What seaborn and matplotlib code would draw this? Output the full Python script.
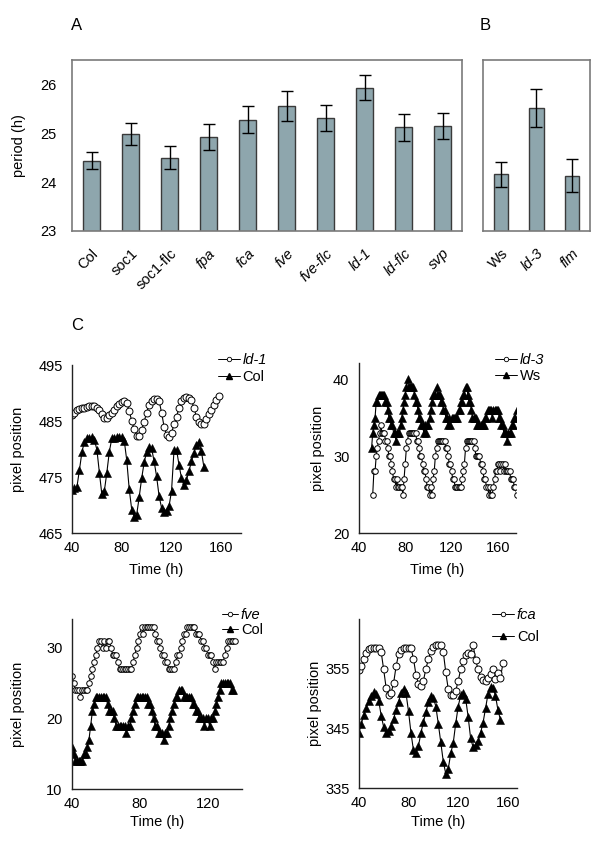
import numpy as np
import pandas as pd
import matplotlib
matplotlib.use("Agg")
import matplotlib.pyplot as plt
from matplotlib.lines import Line2D
import seaborn as sns

# panel A: free-running period, Col background lines
lines_a = ["Col", "soc1", "soc1-flc", "fpa", "fca", "fve", "fve-flc", "ld-1", "ld-flc", "svp"]
period_a = [24.44, 24.98, 24.50, 24.92, 25.28, 25.55, 25.31, 25.93, 25.12, 25.15]
err_a = [0.17, 0.22, 0.24, 0.27, 0.28, 0.31, 0.27, 0.25, 0.27, 0.26]

# panel B: Ws background lines
lines_b = ["Ws", "ld-3", "flm"]
period_b = [24.16, 25.51, 24.13]
err_b = [0.26, 0.39, 0.34]

upright = {"Col", "soc1", "soc1-flc", "Ws"}

# panel C traces (pixel position of leaf vs time)
ld1_time = list(range(40, 160, 2))
ld1_pos = [486.1, 486.5, 486.9, 487.1, 487.3, 487.3, 487.5, 487.6, 487.6, 487.6,
           487.4, 487.0, 486.2, 485.5, 485.6, 486.0, 486.5, 487.0, 487.6, 488.0,
           488.4, 488.5, 488.2, 486.8, 485.0, 483.5, 482.4, 482.4, 483.4, 484.9,
           486.5, 487.9, 488.6, 489.0, 489.0, 488.6, 486.5, 484.0, 482.5, 482.2,
           482.9, 484.4, 485.8, 487.3, 488.5, 489.1, 489.3, 489.2, 488.8, 487.3,
           485.8, 484.8, 484.4, 484.5, 485.4, 486.3, 487.0, 487.8, 488.7, 489.4]
col1_time = list(range(40, 148, 2))
col1_pos = [472.7, 473.0, 473.3, 476.3, 479.5, 481.3, 481.9, 482.0, 482.1, 481.6,
            479.9, 475.8, 471.9, 472.5, 475.8, 479.5, 481.9, 482.0, 482.1, 482.1,
            482.1, 481.5, 478.0, 472.8, 469.2, 467.9, 468.3, 471.4, 474.8, 477.6,
            479.5, 480.3, 480.1, 477.8, 475.1, 471.6, 469.5, 468.8, 469.0, 469.8,
            472.5, 479.8, 479.9, 477.2, 474.8, 473.6, 474.5, 476.0, 477.8, 479.3,
            480.8, 481.3, 479.6, 476.8]

ld3_time = list(range(52, 177))
ld3_pos = [25, 28, 28, 30, 31, 32, 33, 34, 33, 33,
           33, 32, 32, 31, 30, 30, 29, 28, 27, 27,
           26, 27, 26, 26, 26, 26, 25, 27, 29, 31,
           32, 33, 33, 33, 33, 33, 33, 33, 32, 32,
           31, 30, 30, 29, 28, 28, 27, 26, 26, 25,
           26, 25, 27, 28, 30, 31, 32, 32, 32, 32,
           32, 32, 32, 31, 31, 30, 29, 29, 28, 27,
           27, 26, 26, 26, 26, 26, 26, 27, 28, 29,
           31, 32, 32, 32, 32, 32, 32, 32, 31, 30,
           30, 30, 30, 29, 29, 28, 27, 27, 26, 26,
           25, 26, 25, 25, 26, 27, 28, 28, 29, 29,
           28, 29, 29, 28, 29, 28, 28, 28, 28, 27,
           27, 27, 26, 26, 25]
ws_time = list(range(51, 177))
ws_pos = [31, 33, 34, 35, 37, 37, 38, 38, 38, 38,
          38, 38, 37, 37, 36, 35, 35, 34, 34, 33,
          33, 32, 33, 33, 33, 34, 35, 36, 37, 38,
          39, 40, 39, 39, 39, 39, 39, 38, 37, 37,
          36, 35, 35, 34, 34, 33, 34, 33, 34, 34,
          35, 36, 37, 38, 38, 38, 39, 38, 38, 38,
          37, 37, 36, 36, 35, 35, 34, 35, 34, 35,
          35, 35, 35, 35, 35, 36, 36, 37, 37, 38,
          38, 39, 39, 38, 37, 37, 36, 35, 35, 35,
          35, 34, 34, 34, 34, 34, 34, 34, 35, 35,
          36, 36, 36, 36, 35, 36, 36, 36, 36, 36,
          35, 35, 34, 34, 33, 33, 33, 32, 33, 33,
          33, 34, 34, 35, 35, 36]

fve_time = list(range(40, 137))
fve_pos = [26, 25, 24, 24, 24, 23, 24, 24, 24, 24,
           25, 26, 27, 28, 29, 30, 31, 31, 30, 31,
           30, 31, 31, 30, 29, 29, 29, 28, 27, 27,
           27, 27, 27, 27, 27, 27, 28, 29, 30, 31,
           32, 33, 32, 33, 33, 33, 33, 33, 33, 32,
           31, 31, 30, 29, 29, 28, 28, 27, 27, 27,
           27, 28, 29, 29, 30, 31, 32, 32, 33, 33,
           33, 33, 33, 32, 32, 32, 31, 31, 30, 30,
           29, 29, 29, 28, 27, 28, 28, 28, 28, 28,
           29, 30, 31, 31, 31, 31, 31]
col3_time = list(range(40, 136))
col3_pos = [16, 15, 14, 14, 14, 14, 14, 15, 15, 16,
            17, 19, 21, 22, 23, 23, 23, 23, 23, 23,
            23, 22, 21, 21, 21, 20, 19, 19, 19, 19,
            19, 19, 18, 19, 19, 20, 21, 22, 23, 23,
            23, 23, 23, 23, 23, 22, 22, 21, 20, 19,
            19, 18, 18, 18, 17, 18, 18, 19, 20, 21,
            22, 23, 23, 24, 24, 24, 23, 23, 23, 23,
            23, 22, 22, 21, 21, 20, 20, 20, 19, 20,
            20, 19, 20, 20, 21, 22, 23, 24, 25, 25,
            25, 25, 25, 25, 24, 24]

fca_time = list(range(40, 158, 2))
fca_pos = [354.7, 355.3, 356.5, 357.6, 358.2, 358.4, 358.4, 358.4, 358.4, 357.7,
           354.8, 351.7, 350.6, 350.9, 352.5, 355.3, 357.3, 358.1, 358.3, 358.4,
           358.4, 358.3, 356.6, 353.9, 352.4, 352.1, 352.9, 354.9, 356.5, 357.8,
           358.6, 358.9, 358.9, 358.9, 357.7, 354.3, 351.5, 350.5, 350.6, 351.2,
           352.9, 354.8, 356.2, 357.2, 357.5, 357.3, 358.9, 356.4, 354.8, 353.6,
           353.0, 352.9, 353.3, 354.0, 354.8, 353.2, 354.2, 353.4, 355.8]
col4_time = list(range(40, 156, 2))
col4_pos = [344.2, 345.7, 347.2, 348.4, 349.5, 350.3, 351.0, 350.7, 349.6, 347.1,
            345.2, 344.2, 344.5, 345.4, 346.6, 348.0, 349.4, 350.9, 351.6, 350.8,
            347.8, 344.2, 341.3, 340.9, 342.0, 344.2, 346.0, 347.7, 349.3, 350.3,
            350.1, 348.6, 345.7, 342.6, 339.4, 337.4, 338.2, 340.8, 342.5, 345.8,
            348.6, 350.5, 350.8, 349.9, 346.9, 343.3, 341.8, 342.2, 342.8, 344.2,
            345.9, 348.3, 350.7, 351.9, 351.7, 350.4, 348.0, 346.4]

BAR_COLOR = "#8ea6ad"
FRAME = "#7a7a7a"


def period_panel(ax, names, values, errs, width, show_ylabels):
    df = pd.DataFrame({"line": names, "period": values})
    sns.barplot(data=df, x="line", y="period", color=BAR_COLOR, width=width,
                edgecolor="#3a3a3a", linewidth=1.0, saturation=1, ax=ax)
    ax.errorbar(range(len(names)), values, yerr=errs, fmt="none", ecolor="black",
                elinewidth=1.0, capsize=4.5, capthick=1.0)
    ax.set_ylim(23, 26.5)
    ax.set_xlim(-0.5, len(names) - 0.5)
    ax.set_yticks([23, 24, 25, 26])
    ax.set_xlabel("")
    ax.set_ylabel("")
    for s in ax.spines.values():
        s.set_visible(True)
        s.set_color(FRAME)
        s.set_linewidth(1.2)
    ax.set_xticks(np.arange(-0.5, len(names), 1), minor=True)
    ax.tick_params(axis="x", which="major", length=0, pad=11)
    ax.tick_params(axis="x", which="minor", length=4, color="#bbbbbb", direction="out")
    ax.tick_params(axis="y", length=3, color="#bbbbbb", direction="out",
                   labelleft=show_ylabels, labelsize=10.5, pad=8)
    ax.set_xticks(range(len(names)))
    ax.set_xticklabels(names, rotation=45, ha="right", va="top",
                       rotation_mode="anchor", fontsize=10.5)
    for lab in ax.get_xticklabels():
        if lab.get_text() not in upright:
            lab.set_style("italic")


def trace_panel(ax, mut, ctrl, xlim, xticks, ylim, yticks, leg_anchor, leg_len, leg_space,
                ylab_x, xlab_y, ms_o, ms_t):
    mt, mv, mname = mut
    ct, cv, cname = ctrl
    sns.lineplot(x=mt, y=mv, ax=ax, color="black", lw=0.8, estimator=None, sort=False)
    sns.lineplot(x=ct, y=cv, ax=ax, color="black", lw=0.8, estimator=None, sort=False)
    # open circles for the mutant, filled triangles for the control
    line_m, line_c = ax.lines[-2], ax.lines[-1]
    line_m.set_marker("o")
    line_m.set_markersize(ms_o)
    line_m.set_markerfacecolor("white")
    line_m.set_markeredgecolor("black")
    line_m.set_markeredgewidth(0.7)
    line_c.set_marker("^")
    line_c.set_markersize(ms_t)
    line_c.set_markerfacecolor("black")
    line_c.set_markeredgecolor("black")
    line_c.set_markeredgewidth(0.4)
    ax.set_xlim(*xlim)
    ax.set_ylim(*ylim)
    ax.set_xticks(xticks)
    ax.set_yticks(yticks)
    sns.despine(ax=ax)
    for s in ["left", "bottom"]:
        ax.spines[s].set_color("#222222")
        ax.spines[s].set_linewidth(1.0)
    ax.tick_params(axis="y", direction="inout", length=7.5, width=1.0, color="#222222",
                   labelsize=10.5, pad=3)
    ax.tick_params(axis="x", direction="in", length=4.5, width=1.0, color="#222222",
                   labelsize=10.5, pad=6)
    ax.set_xlabel("Time (h)", fontsize=10.5)
    ax.set_ylabel("pixel position", fontsize=10.5)
    ax.yaxis.set_label_coords(ylab_x, 0.5)
    ax.xaxis.set_label_coords(0.5, xlab_y)
    handles = [
        Line2D([], [], color="black", lw=0.7, marker="o", markersize=3.2,
               markerfacecolor="white", markeredgecolor="black", markeredgewidth=0.6),
        Line2D([], [], color="black", lw=0.7, marker="^", markersize=4.2,
               markerfacecolor="black", markeredgecolor="black"),
    ]
    leg = ax.figure.legend(handles, [mname, cname], loc="upper left", bbox_to_anchor=leg_anchor,
                           frameon=False, fontsize=10.5, handlelength=leg_len,
                           handletextpad=0.2, labelspacing=leg_space, borderpad=0,
                           borderaxespad=0, numpoints=1)
    leg.get_texts()[0].set_style("italic")


sns.set_theme(style="white")
plt.rcParams["font.family"] = ["Liberation Sans", "DejaVu Sans"]
plt.rcParams.update({"text.color": "black", "axes.labelcolor": "black",
                     "xtick.labelcolor": "black", "ytick.labelcolor": "black"})

fig = plt.figure(figsize=(6.0, 8.43), dpi=100)

ax_a = fig.add_axes([0.12, 0.726, 0.65, 0.203])
period_panel(ax_a, lines_a, period_a, err_a, 0.42, True)
ax_a.set_ylabel("period (h)", fontsize=10.5)
ax_a.yaxis.set_label_coords(-0.118, 0.5)

ax_b = fig.add_axes([0.805, 0.726, 0.178, 0.203])
period_panel(ax_b, lines_b, period_b, err_b, 0.4, False)

ax_c1 = fig.add_axes([0.12, 0.3677, 0.282, 0.1993])
trace_panel(ax_c1, (ld1_time, ld1_pos, "ld-1"), (col1_time, col1_pos, "Col"),
            (40, 176), [40, 80, 120, 160], (465, 495), [465, 475, 485, 495],
            (0.363, 0.581), 1.5, 0.2, -0.278, -0.179, 5.0, 6.2)

ax_c2 = fig.add_axes([0.598, 0.3677, 0.262, 0.2017])
trace_panel(ax_c2, (ld3_time, ld3_pos, "ld-3"), (ws_time, ws_pos, "Ws"),
            (40, 175.5), [40, 80, 120, 160], (20, 42.1), [20, 30, 40],
            (0.825, 0.581), 1.5, 0.1, -0.217, -0.176, 4.0, 5.4)

ax_c3 = fig.add_axes([0.12, 0.064, 0.283, 0.2017])
trace_panel(ax_c3, (fve_time, fve_pos, "fve"), (col3_time, col3_pos, "Col"),
            (40, 140), [40, 80, 120], (10, 34.1), [10, 20, 30],
            (0.37, 0.279), 1.1, 0.1, -0.276, -0.153, 4.0, 5.4)

ax_c4 = fig.add_axes([0.598, 0.0652, 0.263, 0.2005])
trace_panel(ax_c4, (fca_time, fca_pos, "fca"), (col4_time, col4_pos, "Col"),
            (40, 167), [40, 80, 120, 160], (335, 363.2), [335, 345, 355],
            (0.82, 0.279), 1.5, 0.55, -0.234, -0.16, 5.0, 6.2)

for txt, x, y in [("A", 0.128, 0.970), ("B", 0.808, 0.970), ("C", 0.128, 0.614)]:
    fig.text(x, y, txt, fontsize=12, ha="center", va="center")

fig.savefig("out.png", dpi=100)
